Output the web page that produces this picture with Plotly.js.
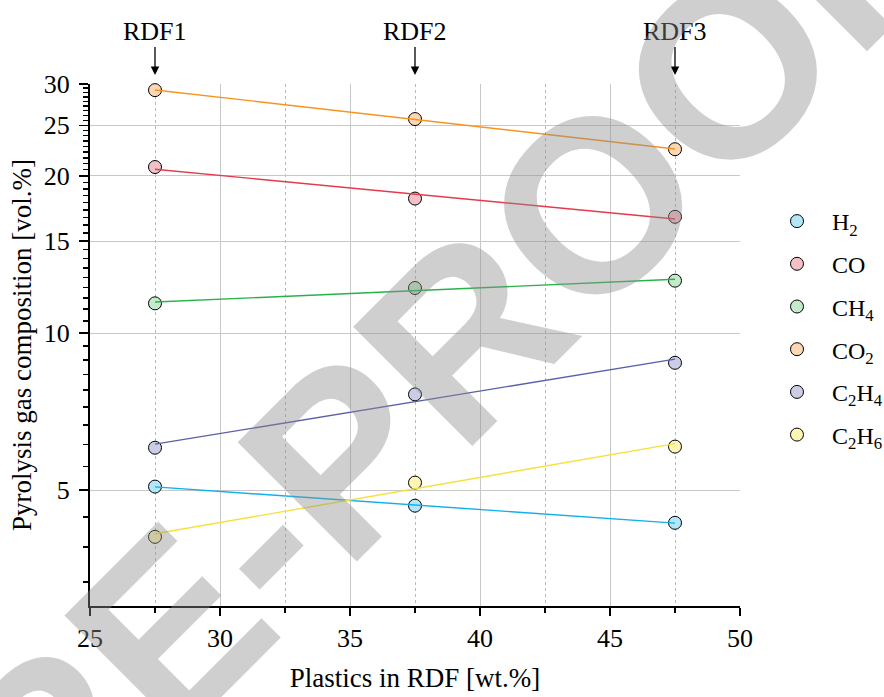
<!DOCTYPE html>
<html>
<head>
<meta charset="utf-8">
<script src="https://cdn.plot.ly/plotly-3.0.1.min.js"></script>
<style>html,body{margin:0;padding:0;background:#fff;}#chart{width:884px;height:697px;}</style>
</head>
<body>
<div id="chart"></div>
<script>
// ---- data ----
const plastics = [27.5, 37.5, 47.5];
const rdfLabels = ['RDF1', 'RDF2', 'RDF3'];
const seriesNames = ['H<sub>2</sub>', 'CO', 'CH<sub>4</sub>', 'CO<sub>2</sub>', 'C<sub>2</sub>H<sub>4</sub>', 'C<sub>2</sub>H<sub>6</sub>'];
const H2   = [5.08, 4.67, 4.33];
const CO   = [20.8, 18.1, 16.7];
const CH4  = [11.4, 12.2, 12.6];
const CO2  = [29.2, 25.7, 22.5];
const C2H4 = [6.03, 7.63, 8.77];
const C2H6 = [4.07, 5.17, 6.06];
const xTicks = [25, 30, 35, 40, 45, 50];
const yTicks = [5, 10, 15, 20, 25, 30];
const yTickText = ['5', '10', '15', '20', '25', '30'];

// ---- styles ----
const fillColors = ['#b3e6f8', '#f3c0c8', '#c3ebca', '#fdd6b3', '#cbcde6', '#fdf6b4'];
const lineColors = ['#12b0e8', '#e5394f', '#27b24a', '#f7941d', '#5b5fab', '#f6e13c'];
const allSeries = [H2, CO, CH4, CO2, C2H4, C2H6];

// minor ticks on the log axis: 8 equal steps inside every 5-unit interval
const yMinor = [];
for (let k = 0; k < 6; k++) {
  for (let j = 1; j <= 8; j++) {
    const v = 5 * k + 5 * j / 9;
    if (v >= 3 && v <= 30) yMinor.push(v);
  }
}

// exponential (log-linear) least squares fit
function fitLog(xs, ys) {
  const n = xs.length;
  const ly = ys.map(v => Math.log10(v));
  const mx = xs.reduce((a, b) => a + b, 0) / n;
  const my = ly.reduce((a, b) => a + b, 0) / n;
  let sxy = 0, sxx = 0;
  for (let i = 0; i < n; i++) { sxy += (xs[i] - mx) * (ly[i] - my); sxx += (xs[i] - mx) ** 2; }
  const b = sxy / sxx, a = my - b * mx;
  const xe = [xs[0], xs[n - 1]];
  return { x: xe, y: xe.map(x => Math.pow(10, a + b * x)) };
}

const font = 'Liberation Serif, Times New Roman, serif';
const traces = [];
allSeries.forEach((ys, i) => {
  traces.push({
    x: plastics, y: ys, type: 'scatter', mode: 'markers', name: seriesNames[i],
    legendgroup: 'g' + i,
    marker: { size: 13, color: fillColors[i], line: { color: '#000', width: 1 } },
    cliponaxis: false, hoverinfo: 'skip'
  });
});
allSeries.forEach((ys, i) => {
  const f = fitLog(plastics, ys);
  traces.push({
    x: f.x, y: f.y, type: 'scatter', mode: 'lines', showlegend: false,
    line: { color: lineColors[i], width: 1.4 }, hoverinfo: 'skip'
  });
});

const L = 90, R = 740, T = 84, B = 606;
const annotations = plastics.map((x, i) => ({
  x: x, xref: 'x', y: (B - 75) / (B - T), yref: 'paper',
  text: rdfLabels[i], showarrow: true, ax: 0, ay: -44,
  arrowhead: 2, arrowsize: 1.3, arrowwidth: 1.3, arrowcolor: '#000',
  font: { family: font, size: 26, color: '#000' }
}));
// watermark overlay of the source figure
annotations.push({
  x: (386 - L) / (R - L), y: (B - 412) / (B - T), xref: 'paper', yref: 'paper',
  text: 'PRE-PROOF', showarrow: false, textangle: -45,
  font: { family: 'Liberation Sans, Arial, sans-serif', size: 245, weight: 700, color: 'rgba(140,140,140,0.42)' }
});

const axBase = {
  showline: true, linecolor: '#000', linewidth: 2, tickcolor: '#000', tickwidth: 1.5,
  tickfont: { family: font, size: 26, color: '#000' }, zeroline: false
};

const layout = {
  width: 884, height: 697,
  margin: { l: L, r: 884 - R, t: T, b: 697 - B, autoexpand: false },
  paper_bgcolor: '#fff', plot_bgcolor: '#fff',
  showlegend: true,
  legend: {
    x: (762 - L) / (R - L), xanchor: 'left', y: (B - 199) / (B - T), yanchor: 'top',
    font: { family: font, size: 24, color: '#000' }, itemwidth: 60, tracegroupgap: 8.5,
    bgcolor: 'rgba(0,0,0,0)'
  },
  xaxis: Object.assign({}, axBase, {
    range: [25, 50], tickmode: 'array', tickvals: xTicks, ticktext: xTicks.map(String),
    ticks: 'outside', ticklen: 8, showgrid: true, gridcolor: '#c8c8c8', gridwidth: 1,
    minor: { dtick: 2.5, tick0: 25, ticks: 'outside', ticklen: 5, tickwidth: 1.5, tickcolor: '#000',
             showgrid: true, gridcolor: '#b8b8b8', griddash: 'dot', gridwidth: 1 },
    title: { text: 'Plastics in RDF [wt.%]', font: { family: font, size: 27, color: '#000' }, standoff: 16 }
  }),
  xaxis2: Object.assign({}, axBase, {
    range: [25, 50], overlaying: 'x', side: 'top', anchor: 'y',
    tickmode: 'array', tickvals: xTicks, showticklabels: false,
    ticks: 'inside', ticklen: 8, showgrid: false,
    minor: { dtick: 2.5, tick0: 25, ticks: 'inside', ticklen: 4, tickwidth: 1.5, tickcolor: '#000', showgrid: false }
  }),
  yaxis: Object.assign({}, axBase, {
    type: 'log', range: [Math.log10(3), Math.log10(30)],
    tickmode: 'array', tickvals: yTicks, ticktext: yTickText,
    ticks: 'outside', ticklen: 9, ticklabelstandoff: 4,
    showgrid: true, gridcolor: '#c8c8c8', gridwidth: 1,
    minor: { tickmode: 'array', tickvals: yMinor, ticks: 'outside', ticklen: 5, tickwidth: 1.5, tickcolor: '#000', showgrid: false },
    title: { text: 'Pyrolysis gas composition [vol.%]', font: { family: font, size: 27, color: '#000' }, standoff: 4 }
  }),
  yaxis2: Object.assign({}, axBase, {
    type: 'log', range: [Math.log10(3), Math.log10(30)], overlaying: 'y', side: 'right', anchor: 'x',
    tickmode: 'array', tickvals: yTicks, showticklabels: false,
    ticks: 'inside', ticklen: 9, showgrid: false,
    minor: { tickmode: 'array', tickvals: yMinor, ticks: 'inside', ticklen: 5, tickwidth: 1.5, tickcolor: '#000', showgrid: false }
  }),
  annotations: annotations
};

Plotly.newPlot('chart', traces, layout, { staticPlot: true, displayModeBar: false });
</script>
</body>
</html>
